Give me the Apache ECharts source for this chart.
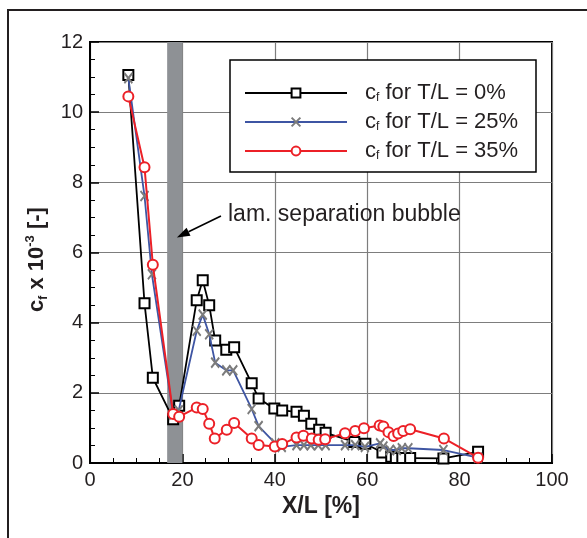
<!DOCTYPE html>
<html>
<head>
<meta charset="utf-8">
<script src="https://cdn.jsdelivr.net/npm/echarts@6/dist/echarts.min.js"></script>
<style>
html,body{margin:0;padding:0;background:#fff;}
#chart{width:587px;height:538px;}
</style>
</head>
<body>
<div id="chart"></div>
<script>
// ---- data ----
var seriesNames = ['T/L = 0%', 'T/L = 25%', 'T/L = 35%'];

var x0 = [8.3, 11.8, 13.6, 18.0, 19.3, 23.1, 24.4, 25.8, 27.1, 29.5, 31.2, 35.0, 36.5, 39.9, 41.6, 44.7, 46.3, 47.9, 49.6, 51.0, 57.2, 59.6, 63.3, 65.2, 66.2, 67.6, 69.3, 76.5, 84.0];
var y0 = [11.06, 4.55, 2.43, 1.25, 1.63, 4.64, 5.21, 4.50, 3.49, 3.23, 3.30, 2.27, 1.84, 1.55, 1.50, 1.46, 1.35, 1.12, 0.95, 0.86, 0.60, 0.55, 0.30, 0.18, 0.14, 0.14, 0.14, 0.13, 0.32];

var x25 = [8.3, 11.8, 13.4, 18.0, 19.2, 23.1, 24.4, 25.8, 27.1, 29.5, 31.0, 35.0, 36.5, 40.1, 41.5, 44.7, 46.3, 47.8, 49.4, 51.0, 55.2, 57.4, 59.5, 62.8, 63.5, 64.9, 66.4, 67.5, 68.9, 76.5, 84.0];
var y25 = [10.97, 7.61, 5.38, 1.38, 1.50, 3.77, 4.23, 3.67, 2.86, 2.64, 2.64, 1.54, 1.05, 0.56, 0.46, 0.51, 0.51, 0.51, 0.51, 0.51, 0.51, 0.51, 0.46, 0.56, 0.47, 0.37, 0.37, 0.42, 0.42, 0.37, 0.15];

var x35 = [8.3, 11.8, 13.6, 18.0, 19.3, 23.1, 24.4, 25.8, 27.0, 29.6, 31.2, 35.0, 36.5, 40.0, 41.6, 44.7, 46.2, 48.0, 49.5, 50.9, 55.2, 57.4, 59.3, 62.7, 63.5, 64.6, 65.7, 66.7, 67.8, 69.3, 76.6, 84.0];
var y35 = [10.45, 8.43, 5.65, 1.40, 1.32, 1.58, 1.54, 1.12, 0.70, 0.95, 1.14, 0.70, 0.51, 0.47, 0.54, 0.73, 0.78, 0.70, 0.66, 0.68, 0.85, 0.91, 0.99, 1.07, 1.04, 0.88, 0.77, 0.84, 0.91, 0.96, 0.70, 0.15];

var xTicks = { min: 0, max: 100, interval: 20 };
var yTicks = { min: 0, max: 12, interval: 2 };

var bubbleBand = [16.7, 20.0];
var arrowFrom = [28.35, 7.04];
var arrowTo = [18.8, 6.43];
var annotationText = 'lam. separation bubble';

function pairs(xs, ys) { return xs.map(function (x, i) { return [x, ys[i]]; }); }

// ---- chart ----
var FONT = '"Liberation Sans", Arial, Helvetica, sans-serif';
var TXT = '#231f20';
var chart = echarts.init(document.getElementById('chart'), null, { renderer: 'canvas' });

var axisCommon = {
  type: 'value',
  axisLine: { show: true, onZero: false, lineStyle: { color: '#000', width: 2 } },
  axisTick: { show: true, inside: true, length: 9, lineStyle: { color: '#000', width: 1.5 } },
  minorTick: { show: true, splitNumber: 4, length: 5, lineStyle: { color: '#000', width: 1 } },
  splitLine: { show: true, lineStyle: { color: '#7d7d7d', width: 1.2 } },
  axisLabel: { fontSize: 20, color: TXT, fontFamily: FONT }
};

var option = {
  animation: false,
  backgroundColor: '#fff',
  grid: { left: 90, right: 35, top: 42, bottom: 75, show: true, borderColor: '#000', borderWidth: 2, backgroundColor: 'transparent' },
  xAxis: Object.assign({}, axisCommon, {
    min: xTicks.min, max: xTicks.max, interval: xTicks.interval,
    axisLabel: Object.assign({}, axisCommon.axisLabel, { margin: 7 }),
    name: 'X/L [%]', nameLocation: 'middle', nameGap: 31,
    nameTextStyle: { fontSize: 23, fontWeight: 'bold', color: TXT, fontFamily: FONT }
  }),
  yAxis: Object.assign({}, axisCommon, {
    min: yTicks.min, max: yTicks.max, interval: yTicks.interval,
    axisLabel: Object.assign({}, axisCommon.axisLabel, { margin: 7 }),
    name: '{b|c}{s|f}{b| x 10}{p|-3}{b| [-]}{e|}', nameLocation: 'middle', nameGap: 29, nameRotate: 90,
    nameTextStyle: {
      color: TXT, fontFamily: FONT,
      rich: {
        b: { fontSize: 22, fontWeight: 'bold', color: TXT, fontFamily: FONT, lineHeight: 26 },
        s: { fontSize: 12, fontWeight: 'bold', color: TXT, fontFamily: FONT, verticalAlign: 'bottom', lineHeight: 26 },
        p: { fontSize: 13, fontWeight: 'bold', color: TXT, fontFamily: FONT, verticalAlign: 'top', lineHeight: 26 },
        e: { width: 14, lineHeight: 26 }
      }
    }
  }),
  legend: {
    orient: 'vertical', left: 244, top: 82, itemWidth: 102, itemHeight: 11, itemGap: 7,
    selectedMode: false, padding: 0,
    data: seriesNames,
    formatter: function (name) { return '{g|}{c|c}{s|f}{c| for ' + name + '}'; },
    textStyle: {
      color: TXT, fontFamily: FONT,
      rich: {
        g: { width: 13, lineHeight: 22 },
        c: { fontSize: 22, color: TXT, fontFamily: FONT, lineHeight: 22 },
        s: { fontSize: 12, color: TXT, fontFamily: FONT, lineHeight: 22, verticalAlign: 'bottom' }
      }
    }
  },
  graphic: [
    { id: 'frame', type: 'polyline', z: 10, shape: { points: [[8, 538], [8, 10], [587, 10]] }, style: { stroke: '#231f20', lineWidth: 2, fill: null } },
    { id: 'legbox', type: 'rect', z: 3, shape: { x: 230, y: 60, width: 306, height: 112 }, style: { fill: '#fff', stroke: '#000', lineWidth: 1.5 } },
    { id: 'annot', type: 'text', z: 5, x: 228, y: 215, style: { text: annotationText, fontSize: 23, fontFamily: FONT, fill: TXT, textVerticalAlign: 'middle' } }
  ],
  series: [
    {
      name: seriesNames[0], type: 'line', z: 2,
      data: pairs(x0, y0),
      symbol: 'emptyRect', symbolSize: 10,
      lineStyle: { color: '#000', width: 1.8 },
      itemStyle: { color: '#000', borderColor: '#000', borderWidth: 2 },
      markArea: {
        silent: true,
        itemStyle: { color: '#8e9195', opacity: 1 },
        data: [[{ xAxis: bubbleBand[0] }, { xAxis: bubbleBand[1] }]]
      }
    },
    {
      name: seriesNames[1], type: 'line', z: 3,
      data: pairs(x25, y25),
      symbol: 'path://M0,0L10,10M10,0L0,10', symbolSize: [8, 10],
      lineStyle: { color: '#3e55a3', width: 1.8 },
      itemStyle: { color: '#7b7b7b', borderColor: '#7b7b7b', borderWidth: 2 }
    },
    {
      name: seriesNames[2], type: 'line', z: 4,
      data: pairs(x35, y35),
      symbol: 'emptyCircle', symbolSize: 10,
      lineStyle: { color: '#ec2027', width: 2 },
      itemStyle: { color: '#ec2027', borderColor: '#ec2027', borderWidth: 1.8 }
    }
  ]
};
chart.setOption(option);

// arrow of the annotation, positioned through the chart's own scales
var p1 = chart.convertToPixel({ gridIndex: 0 }, arrowFrom);
var p2 = chart.convertToPixel({ gridIndex: 0 }, arrowTo);
var dx = p2[0] - p1[0], dy = p2[1] - p1[1];
var len = Math.sqrt(dx * dx + dy * dy);
var ux = dx / len, uy = dy / len;
var headL = 13, headW = 4.5;
var bx = p2[0] - ux * headL, by = p2[1] - uy * headL;
chart.setOption({
  graphic: [
    { id: 'arrowLine', type: 'line', z: 5, shape: { x1: p1[0], y1: p1[1], x2: bx, y2: by }, style: { stroke: '#000', lineWidth: 1.6 } },
    { id: 'arrowHead', type: 'polygon', z: 5, shape: { points: [[p2[0], p2[1]], [bx - uy * headW, by + ux * headW], [bx + uy * headW, by - ux * headW]] }, style: { fill: '#000' } }
  ]
});
</script>
</body>
</html>
